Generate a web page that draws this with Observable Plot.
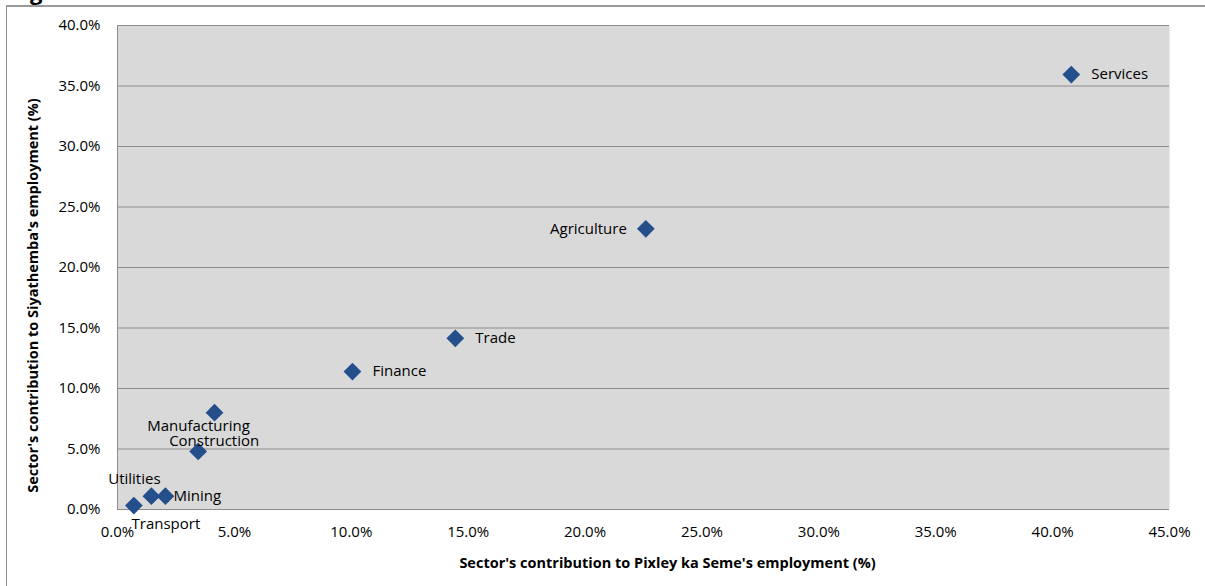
<!DOCTYPE html>
<html>
<head>
<meta charset="utf-8">
<script src="https://cdn.jsdelivr.net/npm/d3@7"></script>
<script src="https://cdn.jsdelivr.net/npm/@observablehq/plot@0.6"></script>
<style>
  html, body { margin: 0; padding: 0; background: #fff; overflow: hidden; }
  #wrap { position: relative; width: 1205px; height: 586px; overflow: hidden; }
  #border { position: absolute; left: 6px; top: 5px; width: 1300px; height: 700px;
            border-left: 1px solid #8a8a8a; border-top: 2px solid #9a9a9a; pointer-events: none; }
  #title { position: absolute; left: 30px; top: -20.5px; font: bold 22px/22px "Open Sans", sans-serif; color: #000; }
  #chart { position: absolute; left: 0; top: 0; }
</style>
</head>
<body>
<div id="wrap">
  <div id="title">g</div>
  <div id="border"></div>
  <div id="chart"></div>
</div>
<script>
const sectors = ["Services", "Agriculture", "Trade", "Finance", "Manufacturing", "Construction", "Mining", "Utilities", "Transport"];
const pixleyShare = [40.8, 22.6, 14.45, 10.05, 4.15, 3.45, 2.05, 1.45, 0.7];
const siyathembaShare = [35.95, 23.2, 14.15, 11.4, 8.0, 4.8, 1.1, 1.1, 0.33];
const xTicks = [0, 5, 10, 15, 20, 25, 30, 35, 40, 45];
const yTicks = [0, 5, 10, 15, 20, 25, 30, 35, 40];
const xTitle = "Sector's contribution to Pixley ka Seme's employment (%)";
const yTitle = "Sector's contribution to Siyathemba's employment (%)";

const data = sectors.map((s, i) => ({ sector: s, x: pixleyShare[i], y: siyathembaShare[i] }));
const pick = names => data.filter(d => names.includes(d.sector));
const fmt = d => d.toFixed(1) + "%";
const labelStyle = { text: "sector", x: "x", y: "y", fill: "#000", fontSize: 15 };

const chart = Plot.plot({
  width: 1205,
  height: 586,
  marginLeft: 117,
  marginRight: 36,
  marginTop: 25,
  marginBottom: 77,
  x: { domain: [0, 45], label: null },
  y: { domain: [0, 40], label: null },
  style: { fontFamily: "'Open Sans', sans-serif", fontSize: "15px", background: "transparent", color: "#000" },
  marks: [
    Plot.frame({ fill: "#d9d9d9", stroke: null }),
    Plot.gridY(yTicks, { stroke: "#8c8c8c", strokeOpacity: 1 }),
    Plot.ruleX([0], { stroke: "#8c8c8c" }),
    Plot.axisX({ ticks: xTicks, tickSize: 0, tickPadding: 17, tickFormat: fmt, label: null, fontSize: 15 }),
    Plot.axisY({ ticks: yTicks, tickSize: 0, tickPadding: 17, tickFormat: fmt, label: null, fontSize: 15 }),
    Plot.dot(data, { x: "x", y: "y", symbol: "diamond2", r: 8, fill: "#244f8b", stroke: null }),
    Plot.text(pick(["Services", "Trade", "Finance"]), { ...labelStyle, textAnchor: "start", dx: 20 }),
    Plot.text(pick(["Mining"]), { ...labelStyle, textAnchor: "start", dx: 8 }),
    Plot.text(pick(["Agriculture"]), { ...labelStyle, textAnchor: "end", dx: -19 }),
    Plot.text(pick(["Utilities"]), { ...labelStyle, textAnchor: "middle", dx: -17, dy: -17 }),
    Plot.text(pick(["Manufacturing"]), { ...labelStyle, textAnchor: "middle", dx: -16, dy: 13 }),
    Plot.text(pick(["Construction"]), { ...labelStyle, textAnchor: "middle", dx: 16, dy: -10 }),
    Plot.text(pick(["Transport"]), { ...labelStyle, textAnchor: "middle", dx: 32, dy: 19 }),
    Plot.text([xTitle], { frameAnchor: "bottom", textAnchor: "middle", dx: 24, dy: 58, fontWeight: "bold", fontSize: 14.5 }),
    Plot.text([yTitle], { frameAnchor: "left", textAnchor: "middle", rotate: -90, dx: -84, dy: 28, fontWeight: "bold", fontSize: 14.5 })
  ]
});
document.getElementById("chart").appendChild(chart);
</script>
</body>
</html>
